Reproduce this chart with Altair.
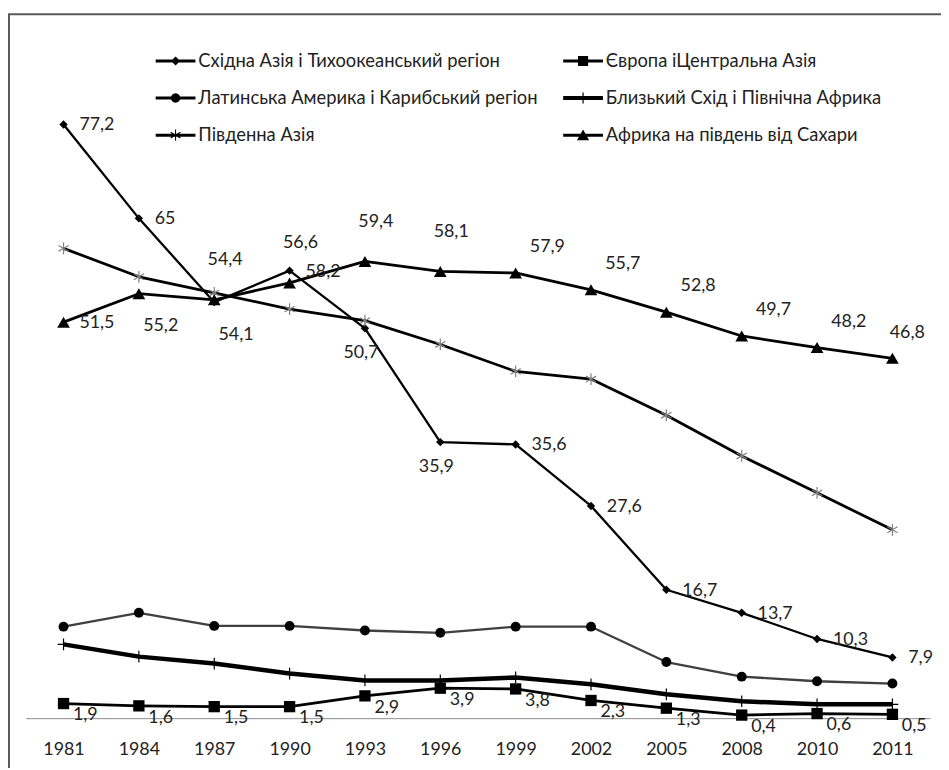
import math
import altair as alt
import pandas as pd

# ---------------- data ----------------
years = ["1981", "1984", "1987", "1990", "1993", "1996", "1999", "2002", "2005", "2008", "2010", "2011"]
series_names = [
    "Східна Азія і Тихоокеанський регіон",
    "Європа іЦентральна Азія",
    "Латинська Америка і Карибський регіон",
    "Близький Схід і Північна Африка",
    "Південна Азія",
    "Африка на південь від Сахари",
]
east_asia = [77.2, 65.0, 54.1, 58.2, 50.7, 35.9, 35.6, 27.6, 16.7, 13.7, 10.3, 7.9]
europe = [1.9, 1.6, 1.5, 1.5, 2.9, 3.9, 3.8, 2.3, 1.3, 0.4, 0.6, 0.5]
latin = [11.9, 13.7, 12.0, 12.0, 11.4, 11.1, 11.9, 11.9, 7.3, 5.4, 4.8, 4.5]
mena = [9.6, 8.0, 7.1, 5.8, 4.9, 4.9, 5.3, 4.4, 3.1, 2.2, 1.8, 1.8]
south_asia = [61.1, 57.4, 55.3, 53.2, 51.7, 48.6, 45.1, 44.1, 39.4, 34.1, 29.3, 24.5]
africa = [51.5, 55.2, 54.4, 56.6, 59.4, 58.1, 57.9, 55.7, 52.8, 49.7, 48.2, 46.8]
values = [east_asia, europe, latin, mena, south_asia, africa]

# Excel-style data label positions (only three series carry labels)
label_pos = {
    0: ["r", "r", "br", "r", "b", "b", "r", "r", "r", "r", "r", "r"],
    1: ["rb"] * 12,
    5: ["r", "br", "t", "t", "t", "t", "tr", "tr", "tr", "tr", "tr", "tn"],
}


def fmt(v):
    return f"{v:g}".replace(".", ",")


rows = []
for si, name in enumerate(series_names):
    for yi, yr in enumerate(years):
        pos = label_pos.get(si, [""] * 12)[yi]
        rows.append({"year": yr, "series": name, "value": values[si][yi],
                     "label": fmt(values[si][yi]), "pos": pos, "sid": si})
df = pd.DataFrame(rows)

# ---------------- styles ----------------
FONT = "Lato"
TXT = "#222222"
PLUS = "M-1,0H1M0,-1V1"
STAR = "M0,-1V1M-0.87,-0.5L0.87,0.5M-0.87,0.5L0.87,-0.5"
styles = [
    dict(line="#000000", lw=2.3, shape="diamond", size=72, filled=True, mcol="#000000"),
    dict(line="#000000", lw=2.8, shape="square", size=130, filled=True, mcol="#000000"),
    dict(line="#404040", lw=2.3, shape="circle", size=100, filled=True, mcol="#000000"),
    dict(line="#000000", lw=4.5, shape=PLUS, size=140, filled=False, mcol="#000000"),
    dict(line="#000000", lw=2.8, shape=STAR, size=140, filled=False, mcol="#808080"),
    dict(line="#000000", lw=2.8, shape="triangle-up", size=165, filled=True, mcol="#000000"),
]


# legend symbols: line + marker as one filled path (units: 1 = 17 px)
def poly(pts):
    a = sum(pts[i][0] * pts[(i + 1) % len(pts)][1] - pts[(i + 1) % len(pts)][0] * pts[i][1]
            for i in range(len(pts)))
    if a < 0:
        pts = pts[::-1]
    return "M" + "L".join(f"{x:.3f},{y:.3f}" for x, y in pts) + "Z"


def rect(x0, y0, x1, y1):
    return poly([(x0, y0), (x1, y0), (x1, y1), (x0, y1)])


def seg(x0, y0, x1, y1, t):
    dx, dy = x1 - x0, y1 - y0
    ln = math.hypot(dx, dy)
    px, py = -dy / ln * t, dx / ln * t
    return poly([(x0 + px, y0 + py), (x1 + px, y1 + py), (x1 - px, y1 - py), (x0 - px, y0 - py)])


L = 1.18
def line_part(t=0.09):
    return rect(-L, -t, L, t)


circle_pts = [(0.28 * math.cos(2 * math.pi * k / 24), 0.28 * math.sin(2 * math.pi * k / 24)) for k in range(24)]
legend_paths = [
    line_part() + poly([(-0.27, 0), (0, -0.27), (0.27, 0), (0, 0.27)]),
    line_part() + rect(-0.3, -0.3, 0.3, 0.3),
    line_part() + poly(circle_pts),
    line_part(0.125) + rect(-0.035, -0.33, 0.035, 0.33),
    line_part() + seg(0, -0.33, 0, 0.33, 0.03) + seg(-0.29, -0.17, 0.29, 0.17, 0.03) + seg(-0.29, 0.17, 0.29, -0.17, 0.03),
    line_part() + poly([(-0.36, 0.3), (0.36, 0.3), (0, -0.34)]),
]
# the legend is filled column by column: order so rows read as in the reference
legend_order = [0, 2, 4, 1, 3, 5]
legend_domain = [series_names[i] for i in legend_order]
legend_range = [legend_paths[i] for i in legend_order]

X = alt.X("year:O", sort=years, title=None,
          scale=alt.Scale(type="point", padding=0.5),
          axis=alt.Axis(ticks=False, tickSize=0, grid=False, labelAngle=0,
                        labelFont=FONT, labelFontSize=18, labelColor=TXT,
                        labelPadding=23, domainColor="#8c8c8c", domainWidth=1))
Y = alt.Y("value:Q", scale=alt.Scale(domain=[0, 90]), axis=None)

layers = []
# frame (chart-area border)
frame = alt.Data(values=[{"k": 1}])
layers.append(alt.Chart(frame).mark_rule(color="#5a5a5a", strokeWidth=2).encode(
    x=alt.value(-17), y=alt.value(-12), y2=alt.value(900)))
layers.append(alt.Chart(frame).mark_rule(color="#5a5a5a", strokeWidth=2).encode(
    x=alt.value(-18), x2=alt.value(1200), y=alt.value(-12)))

for si, st in enumerate(styles):
    d = df[df.sid == si]
    layers.append(alt.Chart(d).mark_line(color=st["line"], strokeWidth=st["lw"],
                                         strokeJoin="round").encode(x=X, y=Y))
for si, st in enumerate(styles):
    d = df[df.sid == si]
    if st["filled"]:
        pm = alt.Chart(d).mark_point(shape=st["shape"], size=st["size"], filled=True,
                                     color=st["mcol"], opacity=1)
    else:
        pm = alt.Chart(d).mark_point(shape=st["shape"], size=st["size"], filled=False,
                                     color=st["mcol"], strokeWidth=1.2, opacity=1)
    layers.append(pm.encode(x=X, y=Y))

offsets = {
    "r": dict(dx=16, dy=1, align="left"),
    "br": dict(dx=22, dy=33, align="center"),
    "b": dict(dx=-4, dy=25, align="center"),
    "t": dict(dx=11, dy=-40, align="center"),
    "tr": dict(dx=32, dy=-26, align="center"),
    "tn": dict(dx=15, dy=-25, align="center"),
    "rb": dict(dx=22, dy=12, align="center"),
}
for key, o in offsets.items():
    d = df[df.pos == key]
    layers.append(alt.Chart(d).mark_text(font=FONT, fontSize=18, color=TXT, baseline="middle",
                                         **o).encode(x=X, y=Y, text="label:N"))

# legend carrier (no visible marks)
layers.append(alt.Chart(df).transform_filter("false").mark_point(filled=True, color="black", opacity=1).encode(
    x=X, y=Y,
    shape=alt.Shape("series:N", scale=alt.Scale(domain=legend_domain, range=legend_range),
                    legend=alt.Legend(title=None, orient="none", legendX=134, legendY=18,
                                      columns=2, columnPadding=24, rowPadding=10.5,
                                      symbolSize=34 * 34, symbolStrokeWidth=0,
                                      symbolFillColor="black", labelFont=FONT,
                                      labelFontSize=18.5, labelColor=TXT, labelOffset=6,
                                      labelLimit=600, padding=0))))

chart = alt.layer(*layers).properties(
    width=912, height=698,
    autosize=alt.AutoSizeParams(type="none"),
    padding={"left": 18, "top": 15, "right": 11, "bottom": 47},
).configure_view(strokeWidth=0)

chart.save("out.html", embed_options={"renderer": "svg", "actions": False})
